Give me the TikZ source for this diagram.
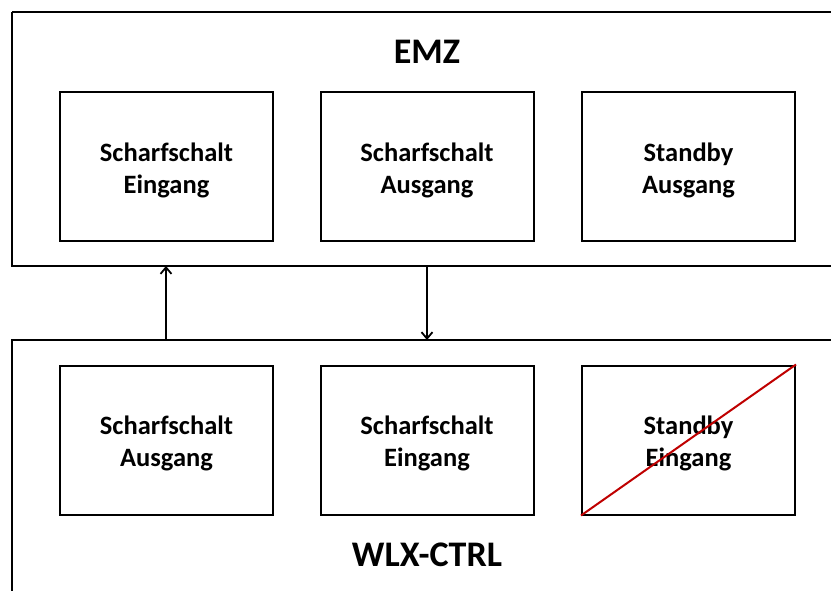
\documentclass[tikz,border=0pt]{standalone}
\usepackage{fontspec}
\setmainfont{Carlito}
\usetikzlibrary{arrows.meta}
\begin{document}
\begin{tikzpicture}[x=1pt,y=-1pt,
  outer/.style={draw=black,line width=2pt},
  inner/.style={draw=black,line width=2pt,minimum width=213pt,minimum height=149pt,inner sep=0pt},
  lbl/.style={align=center,font=\bfseries\fontsize{26.5}{32}\selectfont,inner sep=0pt},
  title/.style={font=\bfseries\fontsize{36}{40}\selectfont,inner sep=0pt},
  conn/.style={line width=1.8pt,-{Straight Barb[length=6.5pt,width=11pt,line width=1.8pt]}}]
\useasboundingbox (0,0) rectangle (831,590);
\clip (0,0) rectangle (831,590);
\fill[white] (0,0) rectangle (831,590);
\draw[outer] (12,12) -- (840,12) (12,12) -- (12,266) -- (840,266);
\draw[outer] (12,600) -- (12,340) -- (840,340);
\node[title] (emz) at (427,52) {EMZ};
\node[title] (wlx) at (427,555) {WLX-CTRL};
\node[inner] (a1) at (166.5,166.5) {};
\node[inner] (a2) at (427,166.5) {};
\node[inner] (a3) at (688.5,166.5) {};
\node[inner] (b1) at (166.5,440) {};
\node[inner] (b2) at (427,440) {};
\node[inner] (b3) at (688.5,440) {};
\node[lbl] (la1) at ([yshift=-3.5pt]a1.center) {Scharfschalt\\Eingang};
\node[lbl] (la2) at ([yshift=-3.5pt]a2.center) {Scharfschalt\\Ausgang};
\node[lbl] (la3) at ([yshift=-3.5pt]a3.center) {Standby\\Ausgang};
\node[lbl] (lb1) at ([yshift=-3.5pt]b1.center) {Scharfschalt\\Ausgang};
\node[lbl] (lb2) at ([yshift=-3.5pt]b2.center) {Scharfschalt\\Eingang};
\node[lbl] (lb3) at ([yshift=-3.5pt]b3.center) {Standby\\Eingang};
\coordinate (t1) at (166,266);
\coordinate (t2) at (166,340);
\coordinate (u1) at (427,266);
\coordinate (u2) at (427,340);
\draw[conn] (t2) -- (t1);
\draw[conn] (u1) -- (u2);
\draw[red!75!black,line width=2pt] (b3.south west) -- (b3.north east);
\end{tikzpicture}
\end{document}
